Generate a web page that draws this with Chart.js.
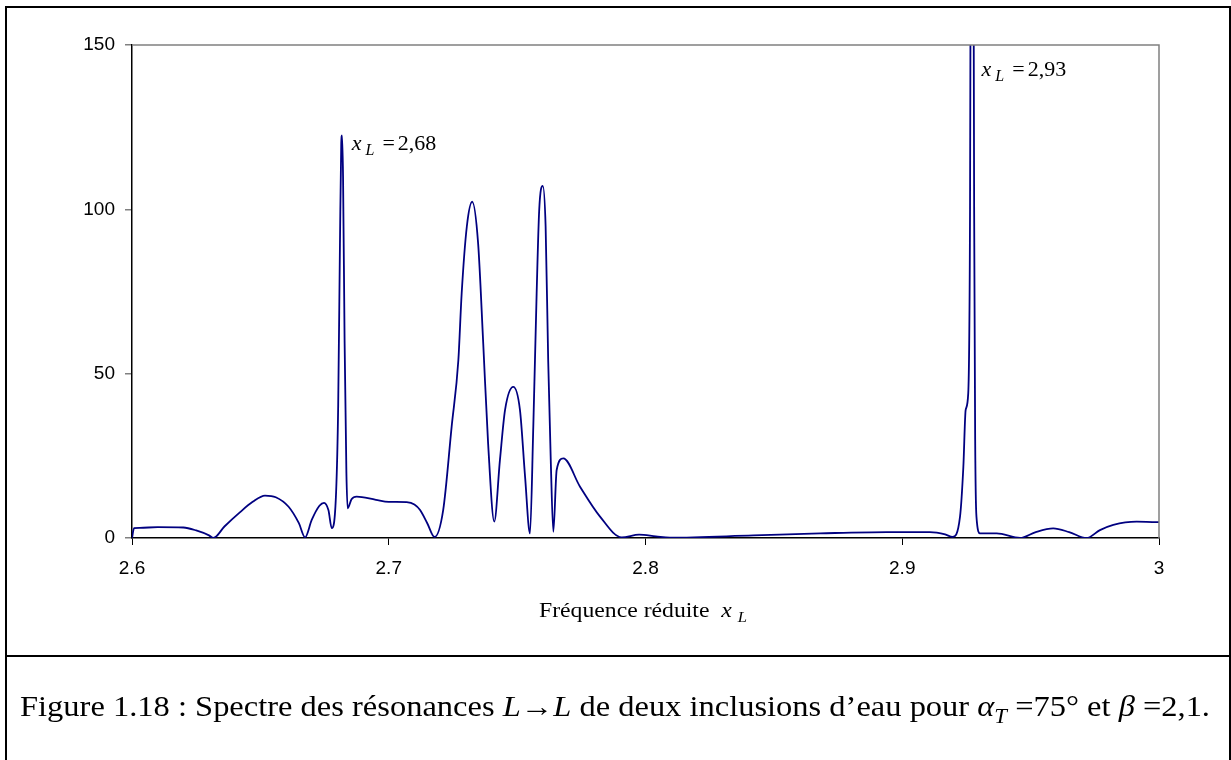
<!DOCTYPE html>
<html>
<head>
<meta charset="utf-8">
<script src="https://cdn.jsdelivr.net/npm/chart.js@4.4.0/dist/chart.umd.min.js"></script>
<style>
  body { margin: 0; background: #fff; }
  #wrap { position: relative; width: 1231px; height: 760px; overflow: hidden; }
  #c { position: absolute; left: 0; top: 0; }
  .frame { position: absolute; left: 5px; top: 6px; width: 1222px; height: 760px; border: 2px solid #000; }
  .sep { position: absolute; left: 5px; top: 655px; width: 1226px; height: 2px; background: #000; }
  .xtitle { position: absolute; left: 539px; top: 599px; white-space: nowrap; transform-origin: 0 0;
            font-family: "Liberation Serif", serif; font-size: 20px; color: #000; }
  .caption { position: absolute; left: 20px; top: 690px; white-space: nowrap; transform-origin: 0 0;
             font-family: "Liberation Serif", serif; font-size: 29px; color: #000; }
  sub { font-size: 0.7em; }
</style>
</head>
<body>
<div id="wrap">
  <canvas id="c" width="1231" height="760"></canvas>
  <div class="frame"></div>
  <div class="sep"></div>
  <div class="xtitle" id="xtitle">Fréquence réduite&nbsp; <i>x</i> <sub><i>L</i></sub></div>
  <div class="caption" id="caption">Figure 1.18 : Spectre des résonances <i>L</i>→<i>L</i> de deux inclusions d’eau pour <i>α<sub>T</sub></i> =75° et <i>β</i> =2,1.</div>
</div>
<script>
// Reduced frequency x_L
const freq = [
  2.6000, 2.6008, 2.6030, 2.6100, 2.6200, 2.6250, 2.6300, 2.6317,
  2.6360, 2.6420, 2.6470, 2.6518, 2.6560, 2.6610, 2.6650, 2.6674,
  2.6700, 2.6730, 2.6748, 2.6765, 2.6778, 2.6795, 2.6803, 2.6810,
  2.6815, 2.6818, 2.6822, 2.6828, 2.6835, 2.6840, 2.6855, 2.6875,
  2.6950, 2.7000, 2.7070, 2.7100, 2.7122, 2.7150, 2.7178, 2.7212,
  2.7245, 2.7271, 2.7284, 2.7304, 2.7325, 2.7348, 2.7368, 2.7387,
  2.7411, 2.7433, 2.7453, 2.7485, 2.7511, 2.7531, 2.7550, 2.7563,
  2.7576, 2.7586, 2.7600, 2.7611, 2.7621, 2.7631, 2.7641, 2.7654,
  2.7680, 2.7745, 2.7823, 2.7907, 2.7975, 2.8040, 2.8095, 2.8420,
  2.8680, 2.8940, 2.9108, 2.9167, 2.9196, 2.9225, 2.9238, 2.9247,
  2.9257, 2.9264, 2.9267, 2.9272, 2.9277, 2.9280, 2.9284, 2.9289,
  2.9303, 2.9368, 2.9459, 2.9520, 2.9588, 2.9650, 2.9718, 2.9770,
  2.9822, 2.9913, 2.9990, 3.0000
];
// Response amplitude
const amplitude = [
  0, 3.0, 3.1, 3.3, 3.2, 2.3, 0.8, 0,
  3.5, 7.8, 11.0, 12.9, 12.4, 9.5, 4.5, 0.2,
  5.5, 9.8, 10.7, 8.5, 3.0, 14, 40, 90,
  120, 122.5, 110, 60, 20, 9, 11.8, 12.6,
  11.6, 11.0, 10.9, 10.2, 8.5, 4.5, 0.3, 8.5,
  33.9, 54, 74.4, 94.7, 102.3, 89.7, 59.2, 28.8,
  5, 23.7, 39, 46, 39, 18.6, 1.4, 33.9,
  74.4, 99.8, 107.1, 94.7, 54, 23.7, 1.9, 20.7,
  24.2, 15.6, 6.5, 0.2, 1.0, 0.5, 0.1, 0.8,
  1.4, 1.8, 1.8, 1.1, 0.3, 6.5, 21.7, 39,
  44, 100, 200, 250, 200, 100, 30, 6.5,
  1.4, 1.4, 0, 1.8, 2.9, 1.8, 0, 2.4,
  4, 5, 4.8, 4.8
];
const xTicks = [2.6, 2.7, 2.8, 2.9, 3];
const yTicks = [0, 50, 100, 150];
// Peak labels: [x position, label height, text]
const peakLabels = [
  [2.6817, 118, '2,68'],
  [2.9270, 140.5, '2,93']
];

// stretch serif texts to the widths seen in the figure
function fitWidth(id, target) {
  const el = document.getElementById(id);
  const w = el.getBoundingClientRect().width;
  el.style.transform = 'scaleX(' + (target / w) + ')';
}
fitWidth('xtitle', 208);
fitWidth('caption', 1190);

const plotFrame = {
  id: 'plotFrame',
  afterDatasetsDraw(chart) {
    const { ctx, chartArea: a, scales } = chart;
    ctx.save();
    ctx.strokeStyle = '#808080';
    ctx.lineWidth = 1.5;
    ctx.beginPath();
    ctx.moveTo(a.left, a.top);
    ctx.lineTo(a.right, a.top);
    ctx.lineTo(a.right, a.bottom);
    ctx.stroke();
    ctx.fillStyle = '#000';
    ctx.textBaseline = 'alphabetic';
    peakLabels.forEach(([xv, yv, txt]) => {
      let px = scales.x.getPixelForValue(xv) + 10;
      const py = scales.y.getPixelForValue(yv);
      ctx.font = 'italic 22px "Liberation Serif"';
      ctx.fillText('x', px, py);
      px += ctx.measureText('x').width + 4;
      ctx.font = 'italic 16px "Liberation Serif"';
      ctx.fillText('L', px, py + 5);
      px += ctx.measureText('L').width + 8;
      ctx.font = '22px "Liberation Serif"';
      ctx.fillText('=', px, py);
      px += ctx.measureText('=').width + 3;
      ctx.fillText(txt, px, py);
    });
    ctx.restore();
  }
};

const axisFont = { family: '"Liberation Sans", Arial', size: 19 };

new Chart(document.getElementById('c'), {
  type: 'line',
  data: {
    datasets: [{
      data: freq.map((f, i) => ({ x: f, y: amplitude[i] })),
      borderColor: '#000080',
      borderWidth: 1.8,
      pointRadius: 0,
      cubicInterpolationMode: 'monotone',
      fill: false
    }]
  },
  options: {
    responsive: false,
    animation: false,
    devicePixelRatio: 1,
    layout: { padding: { left: 0, top: 45, right: 72, bottom: 0 } },
    plugins: { legend: { display: false }, tooltip: { enabled: false } },
    scales: {
      x: {
        type: 'linear',
        min: xTicks[0],
        max: xTicks[xTicks.length - 1],
        afterBuildTicks: s => { s.ticks = xTicks.map(v => ({ value: v })); },
        afterFit: s => { s.height = 222; },
        ticks: {
          font: axisFont,
          color: '#000',
          padding: 12,
          maxRotation: 0,
          callback: v => String(Number(v.toFixed(1)))
        },
        grid: { drawOnChartArea: false, tickLength: 7, color: '#000', lineWidth: 1 },
        border: { color: '#000', width: 1.5 }
      },
      y: {
        min: yTicks[0],
        max: yTicks[yTicks.length - 1],
        afterBuildTicks: s => { s.ticks = yTicks.map(v => ({ value: v })); },
        afterFit: s => { s.width = 132; },
        ticks: { font: axisFont, color: '#000', padding: 10 },
        grid: { drawOnChartArea: false, tickLength: 7, color: '#808080', lineWidth: 1.5 },
        border: { color: '#000', width: 1.5 }
      }
    }
  },
  plugins: [plotFrame]
});
</script>
</body>
</html>
